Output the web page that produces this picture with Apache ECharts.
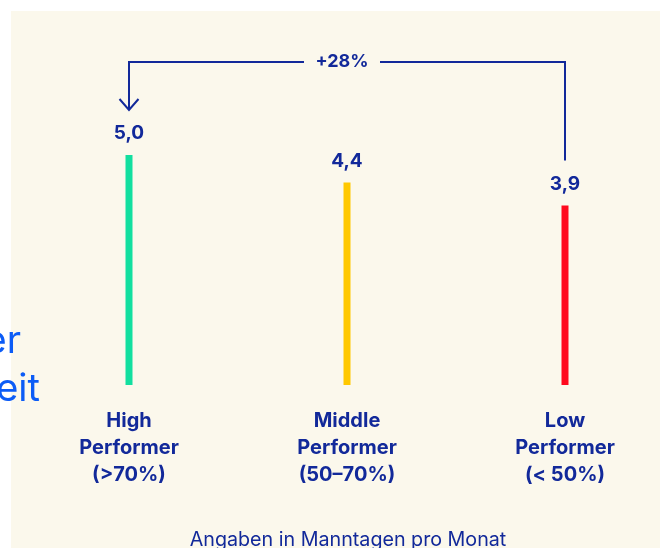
<!DOCTYPE html>
<html>
<head>
<meta charset="utf-8">
<script src="https://cdn.jsdelivr.net/npm/echarts@6/dist/echarts.min.js"></script>
<style>
  html, body { margin: 0; padding: 0; background: #ffffff; overflow: hidden; }
  #chart { width: 674px; height: 548px; }
</style>
</head>
<body>
<div id="chart"></div>
<script>
// Performer groups and average values (man-days per month)
const categories = ['High\nPerformer\n(>70%)', 'Middle\nPerformer\n(50–70%)', 'Low\nPerformer\n(< 50%)'];
const values = [5.0, 4.4, 3.9];
const barColors = ['#12df9f', '#ffc800', '#ff0a1e'];
const valueLabels = ['5,0', '4,4', '3,9'];
const bracketLabel = '+28%';
const footnote = 'Angaben in Manntagen pro Monat';
const sideText = ['er', 'eit'];

const NAVY = '#12299a';
const FONT = 'Inter, "Noto Sans", sans-serif';

const chart = echarts.init(document.getElementById('chart'));

chart.setOption({
  animation: false,
  backgroundColor: '#ffffff',
  grid: { left: 20, right: 0, top: 109, height: 276 },
  xAxis: {
    type: 'category',
    data: categories,
    axisLine: { show: false },
    axisTick: { show: false },
    axisLabel: {
      margin: 22,
      color: NAVY,
      fontFamily: FONT,
      fontWeight: 'bold',
      fontSize: 20,
      lineHeight: 27,
      interval: 0
    }
  },
  yAxis: {
    type: 'value',
    min: 0,
    max: 6,
    show: false
  },
  series: [{
    type: 'bar',
    barWidth: 7,
    data: values.map((v, i) => ({ value: v, itemStyle: { color: barColors[i] } })),
    label: {
      show: true,
      position: 'top',
      distance: 12,
      color: NAVY,
      fontFamily: FONT,
      fontWeight: 'bold',
      fontSize: 19,
      formatter: p => valueLabels[p.dataIndex]
    }
  }]
});

// Bracket from the low performer label to the high performer label
const hi = chart.convertToPixel({ seriesIndex: 0 }, [0, values[0]]);
const lo = chart.convertToPixel({ seriesIndex: 0 }, [2, values[2]]);
const topY = hi[1] - 93;
const loStart = lo[1] - 45;
const hiEnd = hi[1] - 45;
const textX = (hi[0] + lo[0]) / 2 - 5;
const gapHalf = 38;
const lineStyle = { stroke: NAVY, lineWidth: 2, fill: null };

chart.setOption({
  graphic: [
    {
      type: 'rect', z: -10, silent: true,
      shape: { x: 11, y: 11, width: 680, height: 548 },
      style: { fill: '#fbf8ec' }
    },
    {
      type: 'polyline', z: 5,
      shape: { points: [[lo[0], loStart], [lo[0], topY], [textX + gapHalf, topY]] },
      style: lineStyle
    },
    {
      type: 'polyline', z: 5,
      shape: { points: [[textX - gapHalf, topY], [hi[0], topY], [hi[0], hiEnd]] },
      style: lineStyle
    },
    {
      type: 'polyline', z: 5,
      shape: { points: [[hi[0] - 9.5, hiEnd - 11], [hi[0], hiEnd], [hi[0] + 9.5, hiEnd - 11]] },
      style: lineStyle
    },
    {
      type: 'text', z: 5,
      x: textX, y: topY,
      style: {
        text: bracketLabel, fill: NAVY, font: 'bold 18px ' + FONT,
        align: 'center', verticalAlign: 'middle'
      }
    },
    {
      type: 'text', z: 5,
      x: textX + 6, y: 540,
      style: {
        text: footnote, fill: NAVY, font: '19.7px ' + FONT,
        align: 'center', verticalAlign: 'middle'
      }
    },
    {
      type: 'text', z: 5,
      x: 21, y: 361,
      style: {
        text: sideText[0], fill: '#0c5cf6', font: '38px ' + FONT,
        align: 'right', verticalAlign: 'bottom'
      }
    },
    {
      type: 'text', z: 5,
      x: 40, y: 409,
      style: {
        text: sideText[1], fill: '#0c5cf6', font: '38px ' + FONT,
        align: 'right', verticalAlign: 'bottom'
      }
    }
  ]
});
</script>
</body>
</html>
